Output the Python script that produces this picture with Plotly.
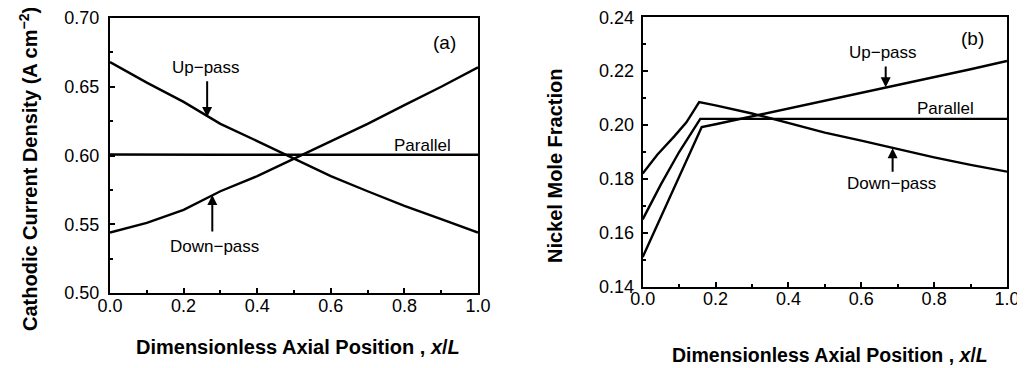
import plotly.graph_objects as go

# ---- Panel (a): cathodic current density ----
xa = [0.0, 0.1, 0.2, 0.3, 0.4, 0.5, 0.6, 0.7, 0.8, 0.9, 1.0]
up_a = [0.668, 0.653, 0.639, 0.623, 0.6105, 0.5976, 0.585, 0.574, 0.5634, 0.5537, 0.544]
down_a = [0.544, 0.551, 0.5605, 0.574, 0.585, 0.5976, 0.6105, 0.623, 0.6366, 0.650, 0.6641]
par_a = [0.6007, 0.6005, 0.6005, 0.6005, 0.6005, 0.6005, 0.6005, 0.6005, 0.6005, 0.6005, 0.6005]

# ---- Panel (b): nickel mole fraction ----
x_down_b = [0.0, 0.04, 0.086, 0.12, 0.155, 0.2, 0.3, 0.4, 0.5, 0.6, 0.7, 0.8, 0.9, 1.0]
down_b = [0.182, 0.189, 0.1957, 0.201, 0.2085, 0.2073, 0.2043, 0.2007, 0.1972, 0.1942, 0.1910, 0.1880, 0.1852, 0.1827]
x_par_b = [0.0, 0.05, 0.1, 0.158, 1.0]
par_b = [0.165, 0.178, 0.190, 0.2023, 0.2023]
x_up_b = [0.0, 0.08, 0.162, 0.2, 0.3, 0.4, 0.5, 0.6, 0.7, 0.8, 0.9, 1.0]
up_b = [0.151, 0.175, 0.1993, 0.2003, 0.2032, 0.2062, 0.2091, 0.2119, 0.2148, 0.2177, 0.2207, 0.2238]

FONT = "Liberation Sans, Arial, sans-serif"
line = dict(color="black", width=2.4)

fig = go.Figure()
fig.add_trace(go.Scatter(x=xa, y=up_a, mode="lines", line=line, xaxis="x", yaxis="y"))
fig.add_trace(go.Scatter(x=xa, y=down_a, mode="lines", line=line, xaxis="x", yaxis="y"))
fig.add_trace(go.Scatter(x=xa, y=par_a, mode="lines", line=line, xaxis="x", yaxis="y"))
fig.add_trace(go.Scatter(x=x_down_b, y=down_b, mode="lines", line=line, xaxis="x2", yaxis="y2"))
fig.add_trace(go.Scatter(x=x_par_b, y=par_b, mode="lines", line=line, xaxis="x2", yaxis="y2"))
fig.add_trace(go.Scatter(x=x_up_b, y=up_b, mode="lines", line=line, xaxis="x2", yaxis="y2"))

def xax(domain, anchor):
    return dict(domain=domain, anchor=anchor, range=[0, 1], dtick=0.2, tickformat=".1f",
                automargin=False, ticklabeloverflow="allow", ticklabelstandoff=-5,
                showline=True, linecolor="black", linewidth=2, mirror=True,
                ticks="inside", ticklen=5, tickwidth=1.5, tickcolor="black",
                minor=dict(dtick=0.1, ticks="inside", ticklen=3, tickcolor="black"),
                showgrid=False, zeroline=False,
                tickfont=dict(family=FONT, size=18, color="black"))

def yax(domain, anchor, rng, dt, mdt, fmt, so):
    return dict(domain=domain, anchor=anchor, range=rng, dtick=dt, tickformat=fmt,
                automargin=False, ticklabeloverflow="allow", ticklabelstandoff=so,
                showline=True, linecolor="black", linewidth=2, mirror=True,
                ticks="inside", ticklen=5, tickwidth=1.5, tickcolor="black",
                minor=dict(dtick=mdt, ticks="inside", ticklen=3, tickcolor="black"),
                showgrid=False, zeroline=False,
                tickfont=dict(family=FONT, size=18, color="black"))

# page body has an 8px margin: figure is drawn at (8, 8) on screen
OFF = 8
W, H = 1025 - OFF, 368 - OFF
def px(sx):
    return (sx - OFF) / W
def py(sy):
    return (H - (sy - OFF)) / H

fig.update_layout(
    width=W, height=H, margin=dict(l=0, r=0, t=0, b=0, autoexpand=False),
    paper_bgcolor="white", plot_bgcolor="white", showlegend=False,
    xaxis=xax([px(110), px(478)], "y"),
    yaxis=yax([py(293), py(18)], "x", [0.50, 0.70], 0.05, 0.025, ".2f", 5),
    xaxis2=xax([px(642.7), px(1007)], "y2"),
    yaxis2=yax([py(286.7), py(17.3)], "x2", [0.14, 0.24], 0.02, 0.01, ".2f", 3),
)

anns = []
tf = dict(family=FONT, size=17, color="black")
def pann(x, y, text, angle=0, size=20):
    return dict(xref="paper", yref="paper", x=px(x), y=py(y), text=text, textangle=angle,
                showarrow=False, xanchor="center", yanchor="middle",
                font=dict(family=FONT, size=size, color="black"))
# Axis titles
anns.append(pann(28, 169, "<b>Cathodic Current Density (A cm<sup>−2</sup>)</b>", -90))
anns.append(pann(555, 166, "<b>Nickel Mole Fraction</b>", -90))
anns.append(pann(298, 347, "<b>Dimensionless Axial Position , <i>x</i>/<i>L</i></b>"))
anns.append(pann(830, 355, "<b>Dimensionless Axial Position , <i>x</i>/<i>L</i></b>", 0, 19.5))
def dann(xr, yr, x, y, text, size=17):
    return dict(xref=xr, yref=yr, x=x, y=y, text=text, showarrow=False,
                xanchor="center", yanchor="middle", font=dict(family=FONT, size=size, color="black"))
# Panel labels
anns.append(dann("x", "y", 0.91, 0.682, "(a)", 19))
anns.append(dann("x2", "y2", 0.905, 0.232, "(b)", 19))
# Panel (a) curve labels
anns.append(dann("x", "y", 0.26, 0.664, "Up−pass"))
anns.append(dann("x", "y", 0.848, 0.6076, "Parallel"))
anns.append(dann("x", "y", 0.285, 0.5335, "Down−pass"))
def arrow(xr, yr, x, y, y0):
    return dict(xref=xr, yref=yr, x=x, y=y, ax=x, ay=y0, axref=xr, ayref=yr,
                text="", showarrow=True, arrowhead=2, arrowsize=1, arrowwidth=2, arrowcolor="black")
anns.append(arrow("x", "y", 0.264, 0.628, 0.655))
anns.append(arrow("x", "y", 0.278, 0.5713, 0.5436))
# Panel (b) curve labels
anns.append(dann("x2", "y2", 0.660, 0.2271, "Up−pass"))
anns.append(dann("x2", "y2", 0.830, 0.2062, "Parallel"))
anns.append(dann("x2", "y2", 0.683, 0.1784, "Down−pass"))
anns.append(arrow("x2", "y2", 0.667, 0.214, 0.2223))
anns.append(arrow("x2", "y2", 0.686, 0.1914, 0.1821))
fig.update_layout(annotations=anns)

fig.write_html("out.html")
